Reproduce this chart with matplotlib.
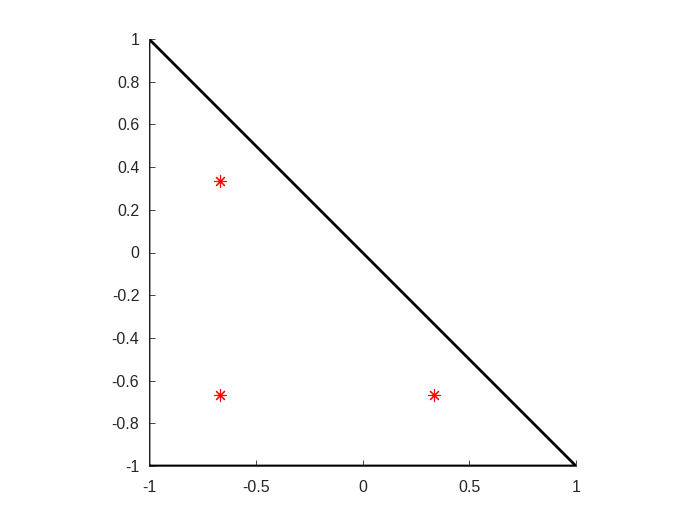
import matplotlib
matplotlib.use("Agg")
import matplotlib.pyplot as plt

tri_x = [-1, 1, -1, -1]
tri_y = [-1, -1, 1, -1]
pts_x = [-2/3, -2/3, 1/3]
pts_y = [1/3, -2/3, -2/3]
xticks = [-1, -0.5, 0, 0.5, 1]
yticks = [-1, -0.8, -0.6, -0.4, -0.2, 0, 0.2, 0.4, 0.6, 0.8, 1]

plt.rcParams['font.family'] = ['Liberation Sans', 'DejaVu Sans']
fig = plt.figure(figsize=(7, 5.25), dpi=100)
ax = fig.add_axes([149/700, 1-466/525, 427/700, 427/525])
ax.plot(tri_x, tri_y, color='black', linewidth=2)
ax.plot(pts_x, pts_y, linestyle='none', marker=(8, 2, 0), markersize=9,
        markeredgecolor='red', markeredgewidth=0.8, color='red')
ax.set_xlim(-1, 1)
ax.set_ylim(-1, 1)
ax.set_xticks(xticks)
ax.set_xticklabels(['-1', '-0.5', '0', '0.5', '1'])
ax.set_yticks(yticks)
ax.set_yticklabels(['-1', '-0.8', '-0.6', '-0.4', '-0.2', '0', '0.2', '0.4', '0.6', '0.8', '1'])
for s in ['top', 'right']:
    ax.spines[s].set_visible(False)
for s in ['left', 'bottom']:
    ax.spines[s].set_linewidth(0.6)
    ax.spines[s].set_color('#262626')
ax.tick_params(direction='in', length=4, width=0.6, labelsize=11.5, colors='#262626')
ax.tick_params(axis='x', pad=10)
ax.tick_params(axis='y', pad=7)
fig.savefig('out.png', dpi=100)
